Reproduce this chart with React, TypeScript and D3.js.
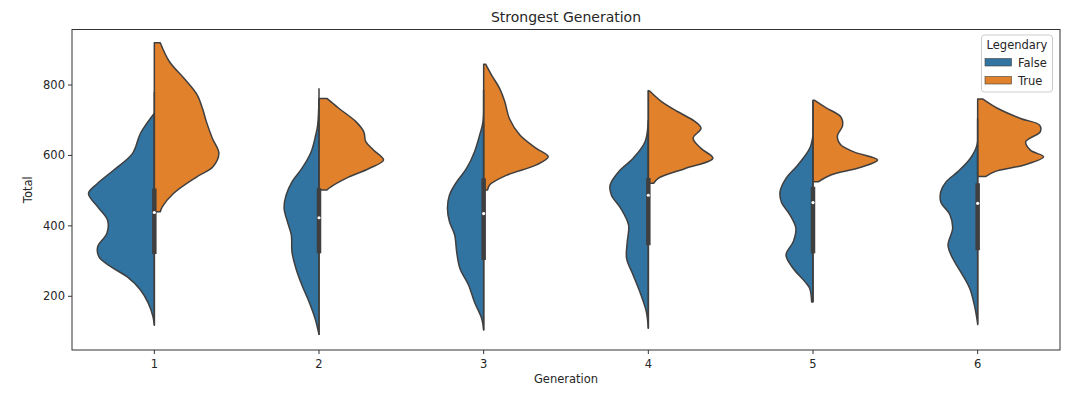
import { area, curveCatmullRom, scaleBand, scaleLinear } from "d3";
import type { ReactElement } from "react";

// Generation categories and hue levels
const GENERATIONS = ["1", "2", "3", "4", "5", "6"];
const HUES = ["False", "True"];
const HUE_COLORS = ["#3274a1", "#e1812c"];

// Half-violin profiles: [Total, density % of widest]
const gen1False: Array<[number, number]> = [
  [720, 0], [663, 21], [606, 33], [558, 62], [521, 86], [492, 100], [454, 86], [416, 71],
  [379, 72], [341, 86], [312, 84], [284, 66], [255, 41], [218, 21], [180, 9], [142, 2], [118, 0],
];
const gen1True: Array<[number, number]> = [
  [920, 9], [866, 23], [819, 45], [772, 65], [734, 73], [696, 79], [649, 88], [606, 98],
  [568, 89], [540, 65], [492, 29], [454, 12], [440, 9],
];
const gen2False: Array<[number, number]> = [
  [760, 0], [686, 2], [658, 5], [610, 12], [563, 26], [525, 41], [487, 50], [450, 53],
  [412, 48], [374, 42], [326, 41], [279, 35], [232, 26], [184, 15], [137, 6], [92, 0],
];
const gen2True: Array<[number, number]> = [
  [762, 12], [734, 30], [696, 56], [667, 68], [639, 71], [615, 83], [587, 98], [563, 76],
  [535, 41], [511, 18], [502, 12],
];
const gen3False: Array<[number, number]> = [
  [786, 0], [696, 1], [658, 6], [610, 14], [563, 26], [525, 41], [487, 52], [450, 55],
  [412, 52], [374, 44], [326, 41], [279, 36], [232, 23], [184, 14], [137, 3], [104, 0],
];
const gen3True: Array<[number, number]> = [
  [859, 3], [828, 12], [791, 24], [753, 32], [705, 39], [658, 55], [620, 80], [596, 98],
  [573, 80], [544, 35], [516, 9], [502, 6],
];
const gen4False: Array<[number, number]> = [
  [700, 0], [639, 5], [592, 23], [554, 45], [516, 58], [487, 56], [450, 42], [402, 30],
  [355, 32], [308, 33], [260, 23], [203, 11], [156, 3], [109, 0],
];
const gen4True: Array<[number, number]> = [
  [783, 2], [753, 20], [724, 45], [696, 71], [677, 80], [649, 68], [620, 80], [592, 98],
  [563, 56], [535, 15], [521, 8],
];
const gen5False: Array<[number, number]> = [
  [658, 0], [620, 5], [573, 23], [535, 41], [497, 50], [468, 48], [431, 35], [393, 26],
  [355, 30], [317, 41], [279, 30], [241, 12], [222, 5], [184, 2],
];
const gen5True: Array<[number, number]> = [
  [757, 2], [735, 20], [710, 42], [685, 45], [655, 37], [630, 42], [610, 62], [587, 98],
  [565, 70], [545, 28], [525, 8],
];
const gen6False: Array<[number, number]> = [
  [705, 0], [630, 1], [592, 11], [554, 30], [525, 48], [497, 56], [468, 56], [431, 42],
  [393, 38], [345, 45], [308, 38], [270, 26], [222, 12], [175, 5], [123, 0],
];
const gen6True: Array<[number, number]> = [
  [760, 8], [734, 30], [705, 65], [686, 94], [667, 95], [639, 73], [615, 80], [596, 100],
  [573, 71], [554, 26], [540, 12],
];

const PROFILES = [
  [gen1False, gen1True],
  [gen2False, gen2True],
  [gen3False, gen3True],
  [gen4False, gen4True],
  [gen5False, gen5True],
  [gen6False, gen6True],
];

// Inner box stats per generation
const whiskerLow = [118, 90, 104, 109, 184, 118];
const q1 = [320, 322, 303, 345, 322, 331];
const median = [438, 423, 435, 487, 466, 464];
const q3 = [506, 507, 535, 536, 511, 521];
const whiskerHigh = [780, 791, 786, 786, 757, 705];

const Y_TICKS = [200, 400, 600, 800];

const WIDTH = 1080;
const HEIGHT = 397;
const LEFT = 72;
const RIGHT = 1060;
const TOP = 29.5;
const BOTTOM = 350;
const GRAY = "#3f3f3f";
const FONT = "DejaVu Sans, sans-serif";
const TEXT = "#262626";

export default function App(): ReactElement {
  const x = scaleBand<string>().domain(GENERATIONS).range([LEFT, RIGHT]).padding(0);
  const y = scaleLinear().domain([47.5, 957.6]).range([BOTTOM, TOP]);
  const halfWidth = x.bandwidth() * 0.4;
  const w = scaleLinear().domain([0, 100]).range([0, halfWidth]);

  return (
    <svg
      width={WIDTH}
      height={HEIGHT}
      viewBox={`0 0 ${WIDTH} ${HEIGHT}`}
      style={{ position: "absolute", left: 0, top: 0, background: "#fff" }}
      fontFamily={FONT}
    >
      <rect x={0} y={0} width={WIDTH} height={HEIGHT} fill="#fff" />
      {GENERATIONS.map((g, gi) => {
        const cx = (x(g) ?? 0) + x.bandwidth() / 2;
        return (
          <g key={g}>
            {PROFILES[gi].map((profile, hi) => {
              const sign = hi === 0 ? -1 : 1;
              const gen = area<[number, number]>()
                .y((d) => y(d[0]))
                .x0(cx)
                .x1((d) => cx + sign * w(d[1]))
                .curve(curveCatmullRom.alpha(0.5));
              return (
                <path
                  key={HUES[hi]}
                  d={gen(profile) ?? ""}
                  fill={HUE_COLORS[hi]}
                  stroke={GRAY}
                  strokeWidth={1.5}
                  strokeLinejoin="round"
                />
              );
            })}
            <line x1={cx} x2={cx} y1={y(whiskerLow[gi])} y2={y(whiskerHigh[gi])} stroke={GRAY} strokeWidth={1.5} />
            <line x1={cx} x2={cx} y1={y(q1[gi])} y2={y(q3[gi])} stroke={GRAY} strokeWidth={4.5} />
            <circle cx={cx} cy={y(median[gi])} r={1.6} fill="#fff" />
          </g>
        );
      })}

      {/* spines */}
      <rect x={LEFT} y={TOP} width={RIGHT - LEFT} height={BOTTOM - TOP} fill="none" stroke="#333" strokeWidth={1} />

      {/* y ticks */}
      {Y_TICKS.map((t) => (
        <g key={t}>
          <line x1={LEFT - 4} x2={LEFT} y1={y(t)} y2={y(t)} stroke="#333" strokeWidth={1} />
          <text x={LEFT - 7} y={y(t)} dy="0.35em" textAnchor="end" fontSize={11.5} fill={TEXT}>
            {t}
          </text>
        </g>
      ))}

      {/* x ticks */}
      {GENERATIONS.map((g) => {
        const cx = (x(g) ?? 0) + x.bandwidth() / 2;
        return (
          <g key={g}>
            <line x1={cx} x2={cx} y1={BOTTOM} y2={BOTTOM + 4} stroke="#333" strokeWidth={1} />
            <text x={cx} y={BOTTOM + 17.5} textAnchor="middle" fontSize={11.5} fill={TEXT}>
              {g}
            </text>
          </g>
        );
      })}

      <text x={(LEFT + RIGHT) / 2} y={383} textAnchor="middle" fontSize={11.5} fill={TEXT}>
        Generation
      </text>
      <text
        transform={`translate(32, ${(TOP + BOTTOM) / 2}) rotate(-90)`}
        textAnchor="middle"
        fontSize={11.5}
        fill={TEXT}
      >
        Total
      </text>
      <text x={(LEFT + RIGHT) / 2} y={22} textAnchor="middle" fontSize={14} fill={TEXT}>
        Strongest Generation
      </text>

      {/* legend */}
      <g>
        <rect x={981.5} y={35} width={71} height={57} rx={3} fill="#fff" fillOpacity={0.8} stroke="#ccc" strokeWidth={1} />
        <text x={1017} y={49} textAnchor="middle" fontSize={11.5} fill={TEXT}>
          Legendary
        </text>
        {HUES.map((h, i) => (
          <g key={h}>
            <rect
              x={985}
              y={58.5 + i * 18}
              width={26.5}
              height={7.5}
              fill={HUE_COLORS[i]}
              stroke={GRAY}
              strokeWidth={0.6}
            />
            <text x={1018} y={66.5 + i * 18} fontSize={11.5} fill={TEXT}>
              {h}
            </text>
          </g>
        ))}
      </g>
    </svg>
  );
}
